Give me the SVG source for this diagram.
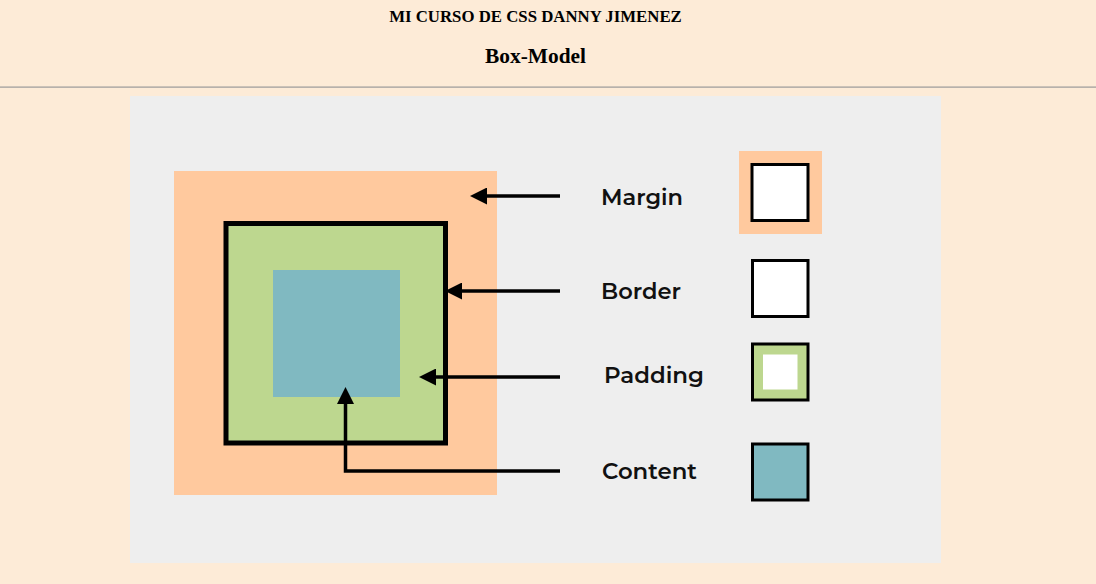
<svg xmlns="http://www.w3.org/2000/svg" width="1096" height="584" viewBox="0 0 1096 584">
<defs>
<style>
.hdr{font-family:"Liberation Serif","Times New Roman",serif;font-weight:bold;fill:#000;text-anchor:middle}
.lbl{font-family:"Montserrat","Noto Sans","Liberation Sans",sans-serif;font-weight:600;font-size:22px;fill:#111}
.conn{fill:none;stroke:#000;stroke-width:3.5}
.box{stroke:#000;stroke-width:3}
</style>
<marker id="arr" viewBox="0 0 10 10" refX="0" refY="5" markerWidth="17" markerHeight="17" markerUnits="userSpaceOnUse" orient="auto-start-reverse">
<path d="M0,0 L10,5 L0,10 Z" fill="#000"/>
</marker>
</defs>
<rect x="0" y="0" width="1096" height="584" fill="#fdebd7"/>
<text class="hdr" x="535.5" y="21.5" font-size="16.8">MI CURSO DE CSS DANNY JIMENEZ</text>
<text class="hdr" x="535.5" y="63" font-size="21.4">Box-Model</text>
<rect x="0" y="86.5" width="1096" height="1.2" fill="#999"/>
<rect x="130" y="96" width="811" height="467" fill="#eeeeee"/>

<g id="diagram">
<rect x="174" y="171" width="323" height="324" fill="#ffc99e"/>
<rect x="226" y="223.5" width="219.5" height="219.5" fill="#bdd78f" stroke="#000" stroke-width="5"/>
<rect x="273" y="270" width="127" height="127" fill="#80b9c1"/>
</g>

<g id="connectors">
<path class="conn" d="M560,196 L487,196" marker-end="url(#arr)"/>
<path class="conn" d="M560,291 L462,291" marker-end="url(#arr)"/>
<path class="conn" d="M560,377 L436,377" marker-end="url(#arr)"/>
<path class="conn" d="M560,471 L345.5,471 L345.5,404" marker-end="url(#arr)"/>
</g>

<g id="margin">
<text class="lbl" x="601" y="204.5" textLength="82" lengthAdjust="spacingAndGlyphs">Margin</text>
<rect x="739" y="151" width="83" height="83" fill="#ffc99e"/>
<rect class="box" x="752" y="164.5" width="56" height="56" fill="#fff"/>
</g>
<g id="border">
<text class="lbl" x="601" y="299" textLength="80" lengthAdjust="spacingAndGlyphs">Border</text>
<rect class="box" x="752.5" y="260.5" width="55.5" height="56" fill="#fff"/>
</g>
<g id="padding">
<text class="lbl" x="604" y="383" textLength="100" lengthAdjust="spacingAndGlyphs">Padding</text>
<rect class="box" x="752.5" y="344" width="55.5" height="56" fill="#bdd78f"/>
<rect x="763" y="354.5" width="34.5" height="35" fill="#fff"/>
</g>
<g id="content">
<text class="lbl" x="602" y="478.5" textLength="95" lengthAdjust="spacingAndGlyphs">Content</text>
<rect class="box" x="752.5" y="444" width="55.5" height="56" fill="#80b9c1"/>
</g>
</svg>
